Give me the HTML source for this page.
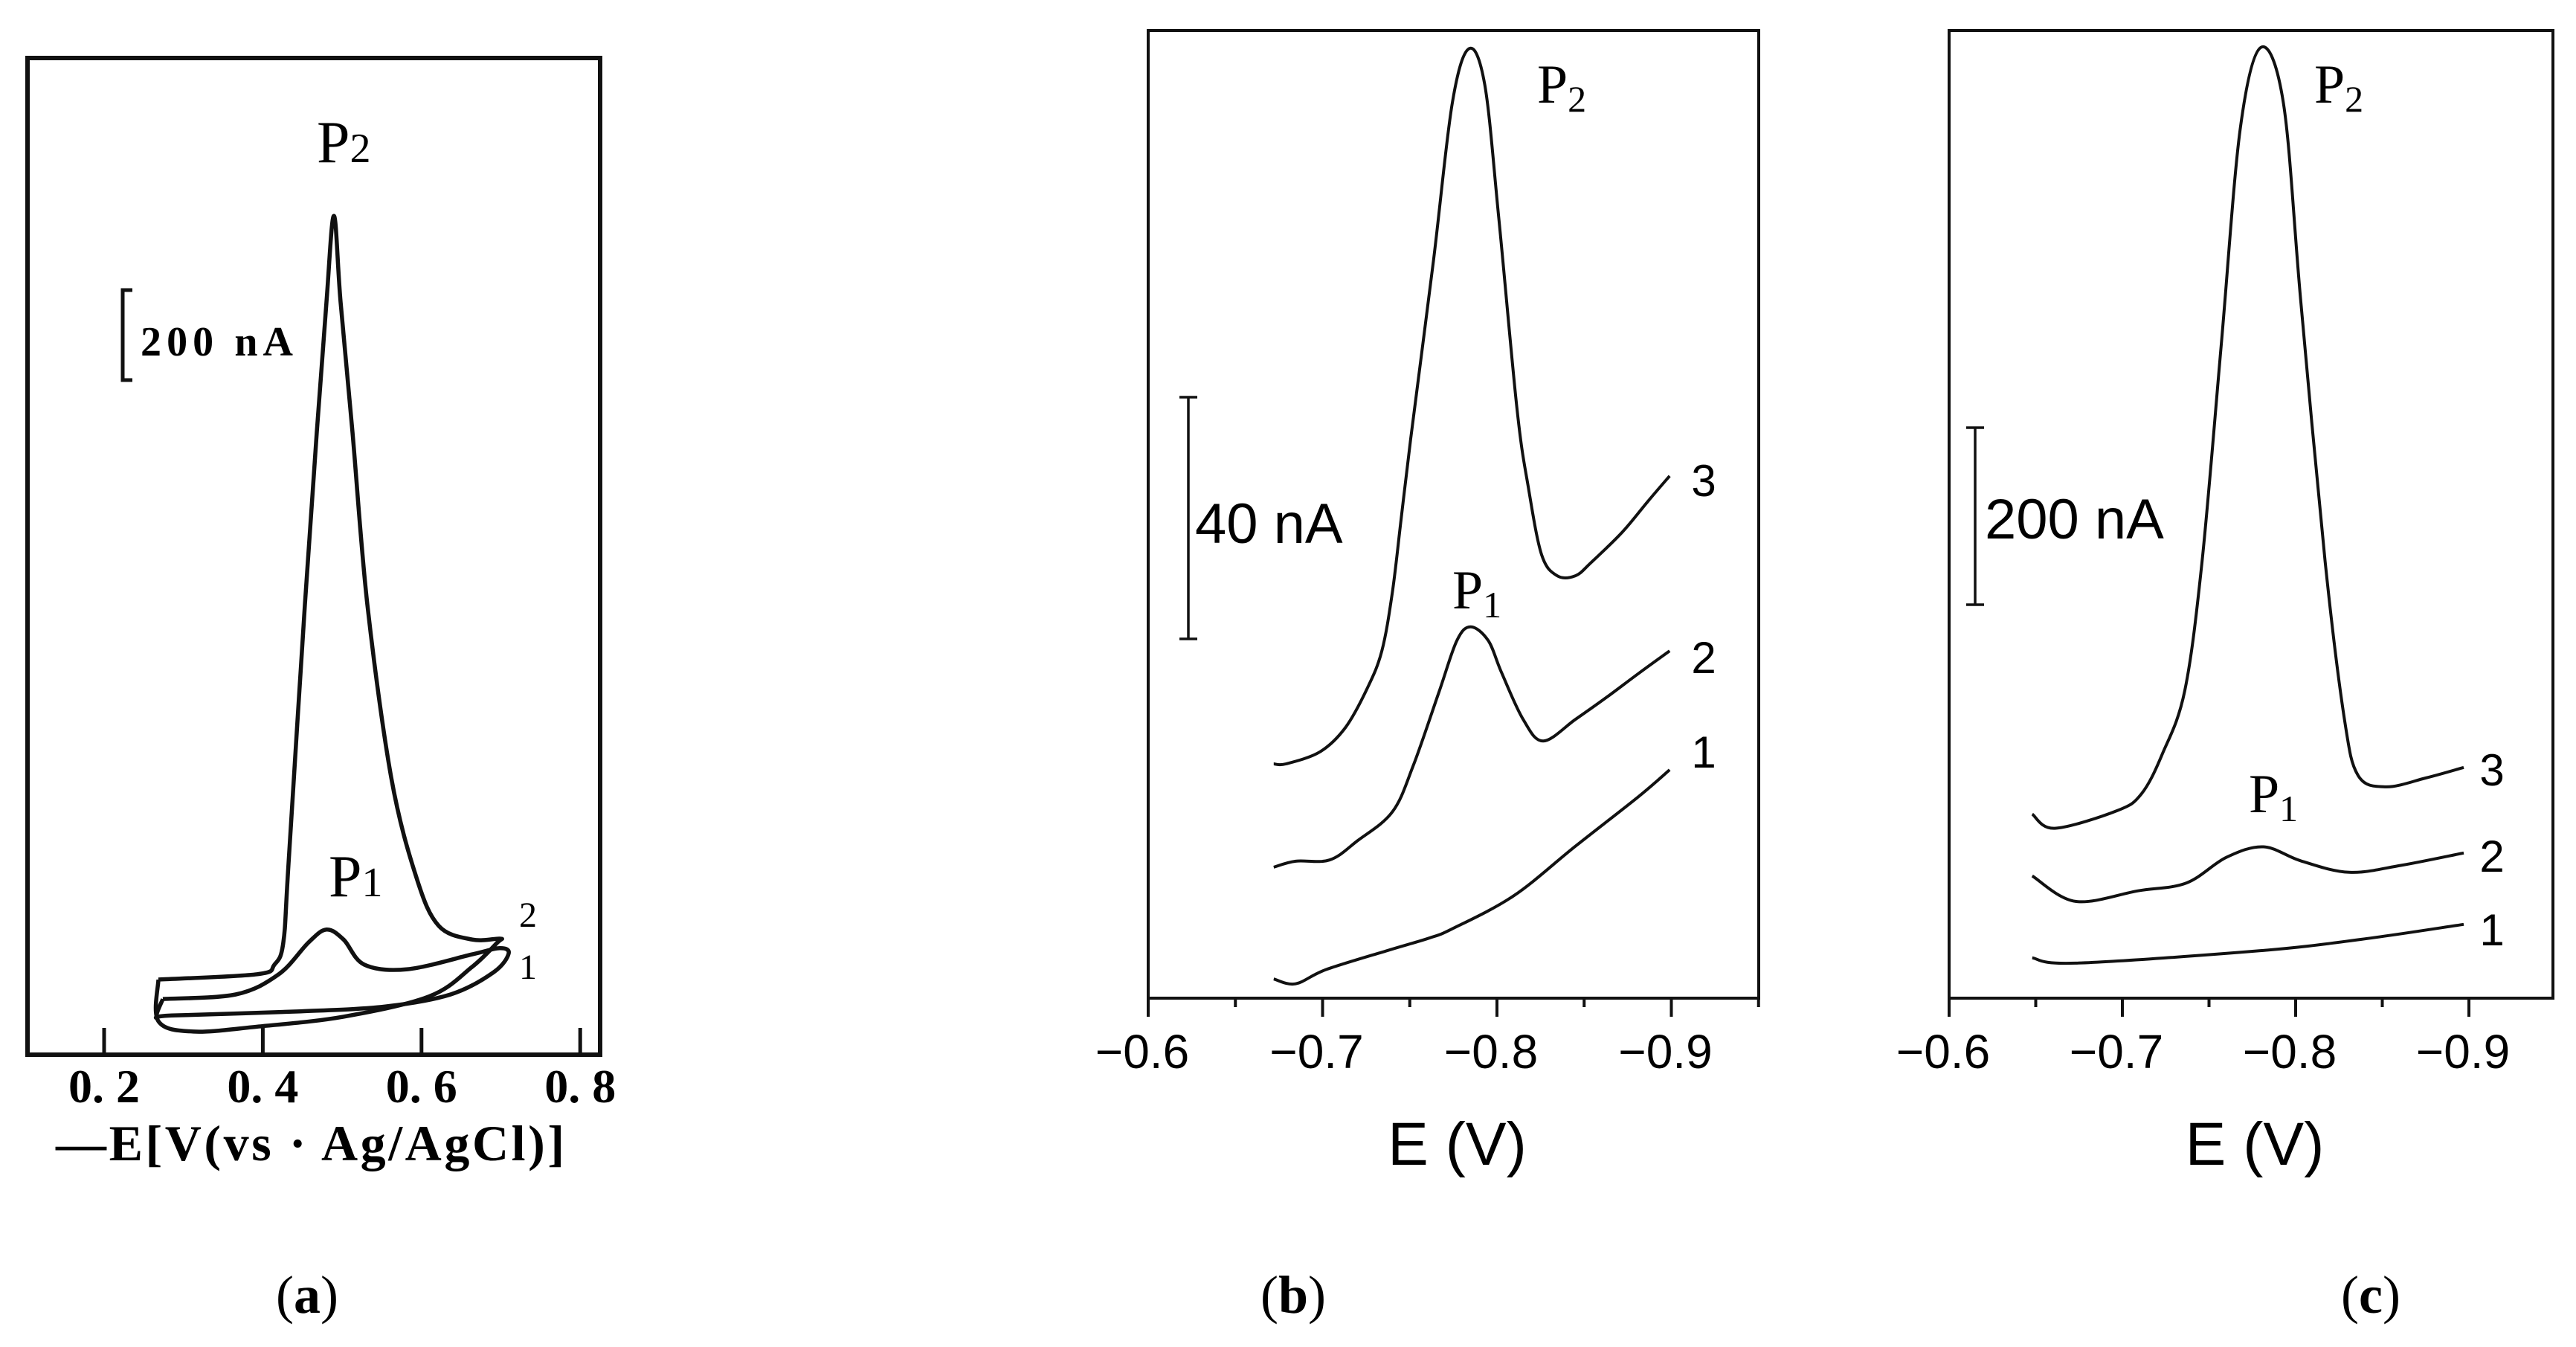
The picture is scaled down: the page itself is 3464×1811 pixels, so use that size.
<!DOCTYPE html>
<html><head><meta charset="utf-8"><style>
html,body{margin:0;padding:0;background:#fff;}
svg{display:block;}
.ser{font-family:"Liberation Serif",serif;}
.sans{font-family:"Liberation Sans",sans-serif;}
</style></head><body>
<svg id="fig" width="3464" height="1811" viewBox="0 0 3464 1811" xmlns="http://www.w3.org/2000/svg">
<rect width="3464" height="1811" fill="#fff"/>
<g id="pa"></g>
<g id="pb"></g>
<g id="pc"></g>
</svg>
<script>
// Panel a data (−E in V, current in nA)
const aTicks = [0.2, 0.4, 0.6, 0.8];
const aTickLabels = ["0. 2", "0. 4", "0. 6", "0. 8"];
const a2E = [0.2684,0.3931,0.4146,0.4259,0.4324,0.4530,0.4680,0.4802,0.4896,0.4980,0.5130,0.5318,0.5618,0.5936,0.6217,0.6639,0.6986,0.6958,0.6639,0.6096,0.5018,0.3931,0.3125,0.2684,0.2684];
const a2I = [182,195,218,272,463,1090,1508,1823,2032,1823,1508,1090,672,429,312,279,281,272,213,141,92,68,56,81,182];
const a1E = [0.2740,0.3659,0.4202,0.4577,0.4802,0.5018,0.5280,0.5824,0.6639,0.6986,0.7098,0.6911,0.6367,0.5552,0.4474,0.2853,0.2665,0.2740];
const a1I = [135,146,195,272,303,279,218,207,243,258,245,200,146,117,105,95,92,135];
// Panel b data (E in V, current in nA)
const bTicks = [-0.6,-0.7,-0.8,-0.9];
const bTickLabels = ["\u22120.6","\u22120.7","\u22120.8","\u22120.9"];
const b3E = [-0.672,-0.679,-0.6985,-0.713,-0.7255,-0.734,-0.740,-0.745,-0.7505,-0.7637,-0.7744,-0.784,-0.793,-0.801,-0.8115,-0.818,-0.8256,-0.8345,-0.845,-0.854,-0.872,-0.8866,-0.899];
const b3I = [38,38,40,44,50.5,56.8,66.5,78.6,92,122,148,157,151,129,97,84,72.8,69.3,69.3,71.5,76.6,81.7,85.9];
const b2E = [-0.672,-0.6845,-0.704,-0.720,-0.740,-0.752,-0.7667,-0.777,-0.785,-0.795,-0.8026,-0.815,-0.8265,-0.845,-0.863,-0.881,-0.899];
const b2I = [20.8,21.8,22,25.2,30,37.7,49.9,58.5,60.8,58.5,53.2,45.4,41.8,45.4,49.1,53,56.8];
const b1E = [-0.672,-0.6845,-0.7023,-0.738,-0.761,-0.774,-0.8094,-0.845,-0.881,-0.899];
const b1I = [2.2,1.4,3.8,7,9,10.5,16,24.3,32.5,37];
// Panel c data
const c3E = [-0.648,-0.661,-0.697,-0.711,-0.723,-0.736,-0.746,-0.757,-0.768,-0.780,-0.793,-0.803,-0.817,-0.828,-0.836,-0.852,-0.875,-0.897];
const c3I = [202,186,206,225,270,342,489,733,979,1072,1008,783,489,312,246,233,243,255];
const c2E = [-0.648,-0.673,-0.709,-0.737,-0.760,-0.7815,-0.803,-0.831,-0.861,-0.897];
const c2I = [132,103,115,124,153,165,149,136,144,158];
const c1E = [-0.648,-0.673,-0.779,-0.838,-0.897];
const c1I = [39,33,47,60,77];

const NS="http://www.w3.org/2000/svg";
function mk(parent,tag,attrs,text){const e=document.createElementNS(NS,tag);for(const k in attrs)e.setAttribute(k,attrs[k]);if(text!==undefined)e.textContent=text;parent.appendChild(e);return e;}
function pathD(E,I,sx,sy){
 const p=E.map((e,i)=>[sx(e),sy(I[i])]);
 let d="M"+p[0][0].toFixed(1)+","+p[0][1].toFixed(1);
 for(let i=0;i<p.length-1;i++){
  const p0=p[Math.max(0,i-1)],p1=p[i],p2=p[i+1],p3=p[Math.min(p.length-1,i+2)];
  const c1=[p1[0]+(p2[0]-p0[0])/6,p1[1]+(p2[1]-p0[1])/6];
  const c2=[p2[0]-(p3[0]-p1[0])/6,p2[1]-(p3[1]-p1[1])/6];
  d+=" C"+c1[0].toFixed(1)+","+c1[1].toFixed(1)+" "+c2[0].toFixed(1)+","+c2[1].toFixed(1)+" "+p2[0].toFixed(1)+","+p2[1].toFixed(1);
 }
 return d;
}

// ---- Panel a ----
(function(){
const g=document.getElementById('pa');
const sx=v=>140+(v-0.2)*1067, sy=i=>1418-i*0.555;
let r=mk(g,'rect',{x:37,y:78,width:770,height:1340,fill:'none',stroke:'#111','stroke-width':6});

aTicks.forEach((t,i)=>{
 let l=mk(g,'line',{x1:sx(t),x2:sx(t),y1:1418,y2:1382,stroke:'#111','stroke-width':5});
 
 let tx=mk(g,'text',{x:sx(t),y:1482,'text-anchor':'middle','font-size':64,'font-weight':'bold',class:'ser'},aTickLabels[i]);
 
});
let xl=mk(g,'text',{x:417,y:1560,'text-anchor':'middle','font-size':68,'font-weight':'bold',class:'ser',textLength:684},"\u2014E[V(vs \u00b7 Ag/AgCl)]");

let p2=mk(g,'path',{d:pathD(a2E,a2I,sx,sy),fill:'none',stroke:'#111','stroke-width':5.5,'stroke-linejoin':'round'});

let p1=mk(g,'path',{d:pathD(a1E,a1I,sx,sy),fill:'none',stroke:'#111','stroke-width':5.5,'stroke-linejoin':'round'});

let sb=mk(g,'path',{d:"M178,390 L165,390 L165,511 L178,511",fill:'none',stroke:'#111','stroke-width':5});

let st=mk(g,'text',{x:189,y:478,'font-size':56,'font-weight':'bold',class:'ser',textLength:205},"200 nA");

let l2=mk(g,'text',{x:426,y:218,'font-size':80,class:'ser'});l2.innerHTML='P<tspan font-size="56">2</tspan>';

let l1=mk(g,'text',{x:442,y:1205,'font-size':80,class:'ser'});l1.innerHTML='P<tspan font-size="56">1</tspan>';

let n2=mk(g,'text',{x:698,y:1246,'font-size':48,class:'ser'},"2");
let n1=mk(g,'text',{x:698,y:1316,'font-size':48,class:'ser'},"1");
let cap=mk(g,'text',{x:413,y:1765,'text-anchor':'middle','font-size':72,class:'ser'});cap.innerHTML='(<tspan font-weight="bold">a</tspan>)';

})();

// ---- Panels b, c ----
function panel(id,L,R,e0,perTenth,k,curves,nums,bar,p2pos,p1pos,cap,suffix){
 const g=document.getElementById(id);
 const T=41,B=1342;
 const sx=e=>e0+(-0.6-e)*perTenth*10, sy=i=>B-8-i*k;
 let r=mk(g,'rect',{x:L,y:T,width:R-L,height:B-T,fill:'none',stroke:'#111','stroke-width':4});
 
 for(let j=0;j<8;j++){
  const e=-0.6-j*0.05; const x=sx(e); if(x>R+2) break;
  const major=j%2===0;
  let l=mk(g,'line',{x1:x,x2:x,y1:B,y2:B+(major?25:12),stroke:'#111','stroke-width':4});
  
 }
 bTicks.forEach((t,i)=>{
  let tx=mk(g,'text',{x:sx(t)-8,y:1436,'text-anchor':'middle','font-size':64,class:'sans'},bTickLabels[i]);
  
 });
 let xl=mk(g,'text',{x:(L+R)/2+5,y:1566,'text-anchor':'middle','font-size':82,class:'sans'},"E (V)");
 
 curves.forEach((c,ci)=>{
  let p=mk(g,'path',{d:pathD(c[0],c[1],sx,sy),fill:'none',stroke:'#111','stroke-width':4,'stroke-linejoin':'round'});
  
 });
 nums.forEach((n,ni)=>{
  let t=mk(g,'text',{x:n[0],y:n[1]+22,'font-size':60,class:'sans','text-anchor':'middle'},String(3-ni));
  
 });
 let sb=mk(g,'path',{d:`M${bar.x-12},${bar.y1} L${bar.x+12},${bar.y1} M${bar.x},${bar.y1} L${bar.x},${bar.y2} M${bar.x-12},${bar.y2} L${bar.x+12},${bar.y2}`,fill:'none',stroke:'#111','stroke-width':3.5});
 
 let st=mk(g,'text',{x:bar.tx,y:bar.ty,'font-size':76,class:'sans'},bar.label);
 
 let l2=mk(g,'text',{x:p2pos[0],y:p2pos[1],'font-size':74,class:'ser'});l2.innerHTML='P<tspan font-size="50" dy="12">2</tspan>';
 
 let l1=mk(g,'text',{x:p1pos[0],y:p1pos[1],'font-size':74,class:'ser'});l1.innerHTML='P<tspan font-size="50" dy="12">1</tspan>';
 
 let cp=mk(g,'text',{x:cap,y:1765,'text-anchor':'middle','font-size':72,class:'ser'});cp.innerHTML='(<tspan font-weight="bold">'+suffix+'</tspan>)';
 
}
panel('pb',1544,2365,1544,234.5,8.08,[[b3E,b3I],[b2E,b2I],[b1E,b1I]],[[2291,645],[2291,883],[2291,1010]],
 {x:1598,y1:534,y2:859,tx:1607,ty:730,label:"40 nA"},[2067,138],[1953,818],1739,'b');
panel('pc',2621,3433,2621,233,1.185,[[c3E,c3I],[c2E,c2I],[c1E,c1I]],[[3351,1034],[3351,1150],[3351,1249]],
 {x:2656,y1:575,y2:813,tx:2669,ty:724,label:"200 nA"},[3112,138],[3024,1092],3188,'c');
</script>
</body></html>
